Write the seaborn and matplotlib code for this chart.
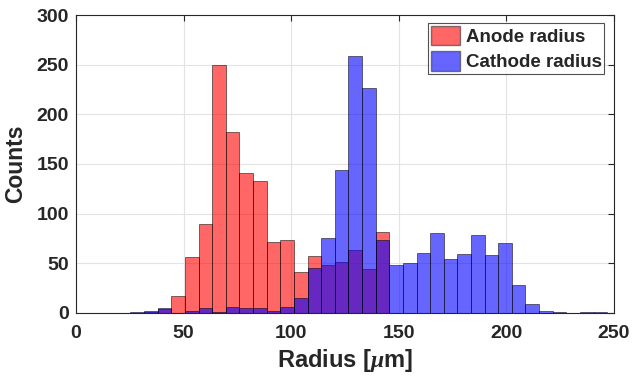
import numpy as np
import pandas as pd
import seaborn as sns
import matplotlib
matplotlib.use("Agg")
import matplotlib.pyplot as plt
from matplotlib.patches import Patch

# histogram bins (shared by both series)
bin_start = 25.3
bin_width = 6.33
n_bins = 35

# counts per bin
anode_counts = [0, 1, 4, 17, 56, 90, 250, 182, 141, 133, 71, 73, 41, 57, 48, 51, 63, 44, 82,
                0, 0, 0, 0, 0, 0, 0, 0, 0, 0, 0, 0, 0, 0, 0, 0]
cathode_counts = [1, 2, 5, 0, 2, 5, 1, 6, 5, 5, 2, 6, 15, 45, 75, 144, 259, 227, 73,
                  48, 50, 60, 80, 54, 59, 78, 58, 70, 28, 9, 2, 1, 0, 1, 1]

edges = bin_start + bin_width * np.arange(n_bins + 1)
centers = (edges[:-1] + edges[1:]) / 2
df = pd.DataFrame({"radius": centers, "anode": anode_counts, "cathode": cathode_counts})

sns.set_style("white")
plt.rcParams["font.family"] = ["Liberation Sans", "DejaVu Sans"]
plt.rcParams["font.weight"] = "bold"
plt.rcParams["mathtext.fontset"] = "custom"
plt.rcParams["mathtext.it"] = "Liberation Serif:italic"
plt.rcParams["mathtext.rm"] = "Liberation Sans:bold"

fig = plt.figure(figsize=(6.33, 3.77), dpi=100)
ax = fig.add_axes([0.120, 0.170, 0.850, 0.790])

red = (1.0, 0.0, 0.0)
blue = (0.0, 0.0, 1.0)
brange = (edges[0], edges[-1])
sns.histplot(data=df, x="radius", weights="anode", binwidth=bin_width, binrange=brange,
             color=red, alpha=0.6, edgecolor=(0, 0, 0, 0.6), linewidth=0.6, ax=ax)
sns.histplot(data=df, x="radius", weights="cathode", binwidth=bin_width, binrange=brange,
             color=blue, alpha=0.6, edgecolor=(0, 0, 0, 0.6), linewidth=0.6, ax=ax)

ax.set_xlim(0, 250)
ax.set_ylim(0, 300)
ax.set_xticks(np.arange(0, 251, 50))
ax.set_yticks(np.arange(0, 301, 50))
ax.grid(True, color="#e3e3e3", linewidth=0.8)
ax.set_axisbelow(True)
for s in ax.spines.values():
    s.set_visible(True)
    s.set_color("#262626")
    s.set_linewidth(0.8)
ax.tick_params(direction="in", top=True, right=True, length=4, width=0.8,
               labelsize=14, colors="#262626")
ax.tick_params(axis="x", pad=9)
ax.tick_params(axis="y", pad=5)
for lab in ax.get_xticklabels() + ax.get_yticklabels():
    lab.set_fontweight("bold")

ax.set_xlabel(r"Radius [$\mu$m]", fontsize=17, fontweight="bold", color="#262626", labelpad=3)
ax.set_ylabel("Counts", fontsize=16.5, fontweight="bold", color="#262626", labelpad=7)

handles = [Patch(facecolor=red, alpha=0.6, edgecolor="#333333", label="Anode radius"),
           Patch(facecolor=blue, alpha=0.6, edgecolor="#333333", label="Cathode radius")]
leg = ax.legend(handles=handles, loc="upper right", frameon=True,
                fancybox=False, edgecolor="#262626", handlelength=1.55, handleheight=1.2,
                handletextpad=0.3, borderpad=0.15, labelspacing=0.3, borderaxespad=0,
                bbox_to_anchor=(0.982, 0.973), prop={"weight": "bold", "size": 13.5})
leg.get_frame().set_linewidth(0.8)

fig.savefig("out.png", dpi=100)
